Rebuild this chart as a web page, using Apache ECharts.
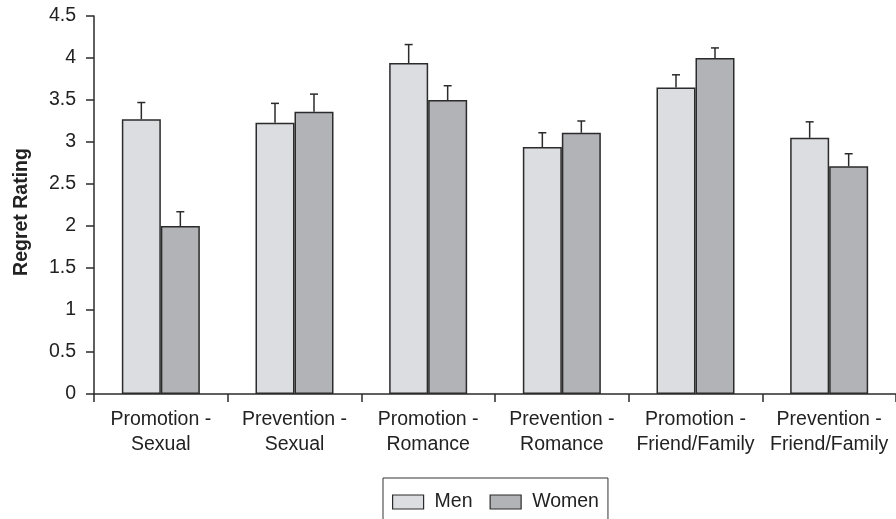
<!DOCTYPE html>
<html>
<head>
<meta charset="utf-8">
<style>
  html, body { margin: 0; padding: 0; background: #fff; }
  #chart { width: 896px; height: 519px; }
</style>
<script src="https://cdn.jsdelivr.net/npm/echarts@6/dist/echarts.min.js"></script>
</head>
<body>
<div id="chart"></div>
<script>
// Regret ratings by regulatory focus and relationship domain
const categories = [
  'Promotion -\nSexual', 'Prevention -\nSexual',
  'Promotion -\nRomance', 'Prevention -\nRomance',
  'Promotion -\nFriend/Family', 'Prevention -\nFriend/Family'
];
const menValues   = [3.27, 3.23, 3.94, 2.94, 3.65, 3.05];
const menErrors   = [0.20, 0.23, 0.22, 0.17, 0.15, 0.19];
const womenValues = [2.00, 3.36, 3.50, 3.11, 4.00, 2.71];
const womenErrors = [0.17, 0.21, 0.17, 0.14, 0.12, 0.15];
const yTicks = [0, 0.5, 1, 1.5, 2, 2.5, 3, 3.5, 4, 4.5];

const FONT = '"Liberation Sans", Arial, Helvetica, sans-serif';
const INK = '#2b2b2b';
const BAR_W = 39;

// Upward-only error bars with a short cap, offset to sit over each bar
function errorSeries(values, errors, side) {
  return {
    type: 'custom',
    z: 5,
    silent: true,
    data: values.map((v, i) => [i, v, v + errors[i]]),
    renderItem: function (params, api) {
      const base = api.coord([api.value(0), api.value(1)]);
      const top = api.coord([api.value(0), api.value(2)]);
      const x = base[0] + side * BAR_W / 2;
      const cap = 4;
      const style = { stroke: INK, lineWidth: 1.5 };
      return {
        type: 'group',
        children: [
          { type: 'line', shape: { x1: x, y1: base[1], x2: x, y2: top[1] }, style: style },
          { type: 'line', shape: { x1: x - cap, y1: top[1], x2: x + cap, y2: top[1] }, style: style }
        ]
      };
    }
  };
}

const chart = echarts.init(document.getElementById('chart'), null, { renderer: 'canvas' });
chart.setOption({
  animation: false,
  backgroundColor: '#ffffff',
  textStyle: { fontFamily: FONT, color: '#222' },
  grid: { left: 94, top: 16, width: 806, height: 378, containLabel: false },
  legend: {
    data: ['Men', 'Women'],
    icon: 'rect',
    left: 383,
    top: 478,
    orient: 'horizontal',
    padding: [14, 9, 30, 9],
    itemWidth: 31,
    itemHeight: 14,
    itemGap: 17,
    borderColor: '#333',
    borderWidth: 1,
    itemStyle: { borderColor: INK, borderWidth: 1.2 },
    textStyle: { fontFamily: FONT, fontSize: 19.5, color: '#222', padding: [0, 0, 0, 6] }
  },
  xAxis: {
    type: 'category',
    data: categories,
    axisLine: { lineStyle: { color: INK, width: 1.5 } },
    axisTick: { show: true, length: 8, alignWithLabel: false, lineStyle: { color: INK, width: 1.5 } },
    axisLabel: {
      fontFamily: FONT, fontSize: 19.5, color: '#222',
      lineHeight: 25, margin: 13, interval: 0, align: 'center'
    },
    splitLine: { show: false }
  },
  yAxis: {
    type: 'value',
    min: yTicks[0],
    max: yTicks[yTicks.length - 1],
    interval: 0.5,
    name: 'Regret Rating',
    nameLocation: 'middle',
    nameGap: 62,
    nameTextStyle: {
      fontFamily: FONT, fontSize: 19.5, fontWeight: 'bold', color: '#222',
      padding: [0, 14, 0, 0]
    },
    axisLine: { show: true, lineStyle: { color: INK, width: 1.5 } },
    axisTick: { show: true, length: 8, lineStyle: { color: INK, width: 1.5 } },
    axisLabel: { fontFamily: FONT, fontSize: 19.5, color: '#222', margin: 18 },
    splitLine: { show: false }
  },
  series: [
    {
      name: 'Men',
      type: 'bar',
      data: menValues,
      barWidth: BAR_W,
      barGap: '0%',
      itemStyle: { color: '#dcdde0', borderColor: INK, borderWidth: 1.5 }
    },
    {
      name: 'Women',
      type: 'bar',
      data: womenValues,
      barWidth: BAR_W,
      barGap: '0%',
      itemStyle: { color: '#b2b3b7', borderColor: INK, borderWidth: 1.5 }
    },
    errorSeries(menValues, menErrors, -1),
    errorSeries(womenValues, womenErrors, 1)
  ]
});
</script>
</body>
</html>
